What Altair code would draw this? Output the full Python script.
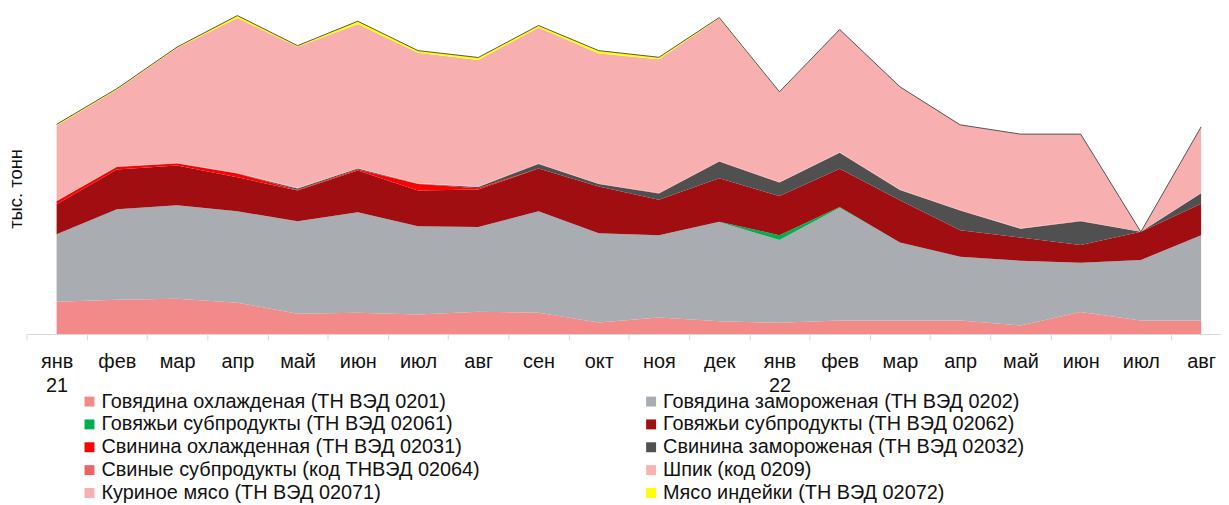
import altair as alt
import pandas as pd

FONT = "Liberation Sans"

months = [["янв", "21"], "фев", "мар", "апр", "май", "июн", "июл", "авг", "сен", "окт",
          "ноя", "дек", ["янв", "22"], "фев", "мар", "апр", "май", "июн", "июл", "авг"]

series = [
    "Говядина охлажденая (ТН ВЭД 0201)",
    "Говядина замороженая (ТН ВЭД 0202)",
    "Говяжьи субпродукты (ТН ВЭД 02061)",
    "Говяжьи субпродукты (ТН ВЭД 02062)",
    "Свинина охлажденная (ТН ВЭД 02031)",
    "Свинина замороженая (ТН ВЭД 02032)",
    "Свиные субпродукты (код ТНВЭД 02064)",
    "Шпик (код 0209)",
    "Куриное мясо (ТН ВЭД 02071)",
    "Мясо индейки (ТН ВЭД 02072)",
]
colors = ["#F28A8A", "#A9ACB0", "#00B050", "#A00E11", "#FF0000",
          "#505050", "#EE6464", "#F8B2B2", "#F7AFAF", "#FFFF00"]

beef_chilled = [32.5, 34.5, 35.5, 31.5, 20.5, 21.5, 19.5, 22.5, 21.5, 11.5,
                16.5, 12.8, 11.2, 13.5, 13.5, 13.5, 8.5, 22.2, 13.5, 13.5]
beef_frozen = [68, 91, 94, 92, 93, 101, 89, 85.3, 102, 90,
               83, 100, 83.3, 113.5, 78.7, 64.3, 65.3, 49.6, 61, 86]
beef_offal_02061 = [0, 0, 0, 0, 0, 0, 0, 0, 0, 0,
                    0, 0.3, 5, 0.8, 0, 0, 0, 0, 0, 0]
beef_offal_02062 = [30, 40, 40, 34.3, 31, 42, 36, 37.7, 43, 47,
                    35.7, 43.7, 39.3, 38.4, 42.3, 26.7, 23.4, 17.7, 28.3, 31.7]
pork_chilled = [3, 2.5, 2, 3.7, 0.5, 1, 6.5, 1.3, 0, 0,
                0, 0, 0, 0, 0, 0, 0, 0, 0, 0]
pork_frozen = [0.3, 0.3, 0.3, 0.3, 1.5, 1, 0.3, 1.2, 4.7, 2.5,
               6.3, 16.7, 13.7, 16.3, 10.5, 19.8, 8.8, 24.1, 0, 10.4]
pork_offal = [0.3, 0.3, 0.3, 0.3, 0.3, 0.3, 0.3, 0.3, 0.3, 0.3,
              0.3, 0.3, 0.3, 0.3, 0.3, 0.3, 0.3, 0.3, 0, 0.3]
lard = [0.3, 0.3, 0.3, 0.3, 0.3, 0.3, 0.3, 0.3, 0.3, 0.3,
        0.3, 0.3, 0.3, 0.3, 0.3, 0.3, 0.3, 0.3, 0, 0.3]
chicken = [75.1, 77, 115.4, 155.6, 141.9, 144.7, 131.3, 127.2, 136.7, 130.6,
           134.4, 143.6, 90.4, 123.4, 103.2, 85.6, 94.6, 87, 0, 66.3]
turkey = [1.5, 1, 1, 2.5, 1.2, 3, 2, 2.5, 2, 3,
          2, 0.8, 0.3, 0, 0, 0, 0, 0, 0, 0]

values = [beef_chilled, beef_frozen, beef_offal_02061, beef_offal_02062, pork_chilled,
          pork_frozen, pork_offal, lard, chicken, turkey]

rows = []
for k, (name, vals) in enumerate(zip(series, values)):
    for i, v in enumerate(vals):
        rows.append({"i": i, "series": name, "k": k, "value": v})
df = pd.DataFrame(rows)
totals = pd.DataFrame({"i": list(range(len(months))),
                       "value": [sum(v[i] for v in values) for i in range(len(months))]})

# legend is laid out column by column; reorder so it reads row by row (2 columns)
legend_order = [0, 2, 4, 6, 8, 1, 3, 5, 7, 9]
legend_domain = [series[j] for j in legend_order]
legend_range = [colors[j] for j in legend_order]

STEP = 60.63
X_MAX = 19.33
W = (X_MAX + 0.5) * STEP
H = 326.5


def js(v):
    if isinstance(v, list):
        return "[" + ",".join(js(x) for x in v) + "]"
    return "'" + v + "'"


label_expr = "datum.value % 1 != 0 ? '' : " + js(months) + "[datum.value]"
tick_values = [j * 0.5 - 0.5 for j in range(40)]

x_axis = alt.Axis(
    values=tick_values,
    labelExpr=label_expr,
    title=None,
    grid=False,
    domainColor="#D9D9D9",
    domainWidth=1,
    tickColor="#D9D9D9",
    tickWidth=1,
    tickSize=6,
    tickOpacity={"condition": {"test": "datum.value % 1 == 0", "value": 0}, "value": 1},
    labelFont=FONT,
    labelFontSize=20,
    labelColor="#111111",
    labelBaseline="alphabetic",
    labelPadding=28,
    labelLineHeight=24,
    labelAngle=0,
    labelOverlap=False,
)
y_axis = alt.Axis(
    title="тыс. тонн",
    labels=False,
    ticks=False,
    domain=False,
    grid=False,
    titleFont=FONT,
    titleFontSize=18.5,
    titleFontWeight="normal",
    titleColor="#111111",
    titleAngle=270,
    titleAlign="center",
    titleBaseline="alphabetic",
    titleX=-5.5,
    titleY=180,
)
x_enc = alt.X("i:Q", scale=alt.Scale(domain=[-0.5, X_MAX], nice=False, zero=False), axis=x_axis)
y_scale = alt.Scale(domain=[0, H], nice=False)

areas = alt.Chart(df).mark_area(interpolate="linear").encode(
    x=x_enc,
    y=alt.Y("value:Q", stack="zero", scale=y_scale, axis=y_axis),
    color=alt.Color(
        "series:N",
        scale=alt.Scale(domain=legend_domain, range=legend_range),
        legend=alt.Legend(
            title=None,
            orient="none",
            legendX=53.4,
            legendY=384.5,
            columns=2,
            columnPadding=161.3,
            rowPadding=3.0,
            symbolType="square",
            symbolSize=100,
            symbolStrokeWidth=0,
            labelFont=FONT,
            labelFontSize=20,
            labelColor="#111111",
            labelOffset=2,
            labelLimit=700,
            padding=0,
        ),
    ),
    order=alt.Order("k:Q", sort="ascending"),
)

top_line = alt.Chart(totals).mark_line(color="#555555", strokeWidth=1).encode(
    x=x_enc,
    y=alt.Y("value:Q", scale=y_scale, axis=y_axis),
)

chart = alt.layer(areas, top_line).properties(
    width=W,
    height=H,
    padding={"left": 18.6, "top": 0, "right": 0, "bottom": 170.5},
    autosize=alt.AutoSizeParams(type="none"),
).configure_view(stroke=None)

chart.save("out.html", embed_options={"renderer": "svg", "actions": False})
